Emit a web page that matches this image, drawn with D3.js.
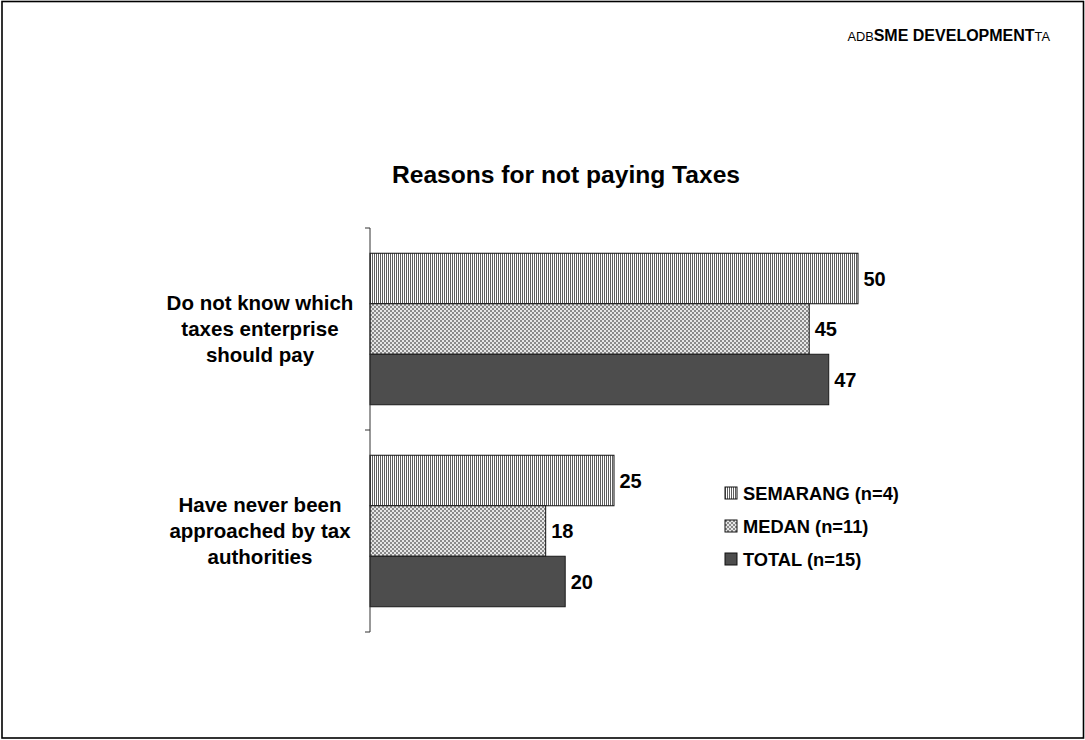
<!DOCTYPE html>
<html>
<head>
<meta charset="utf-8">
<script src="https://cdn.jsdelivr.net/npm/d3@7"></script>
<style>
  html, body { margin: 0; padding: 0; background: #fff; }
  svg text { font-family: Arial, "Liberation Sans", sans-serif; }
</style>
</head>
<body>
<svg id="chart" width="1085" height="740"></svg>
<script>
// Reasons for not paying taxes, by city (percent of respondents)
const categories = [
  ["Do not know which", "taxes enterprise", "should pay"],
  ["Have never been", "approached by tax", "authorities"]
];
const categoryKeys = ["know", "approached"];
const seriesNames = ["SEMARANG (n=4)", "MEDAN (n=11)", "TOTAL (n=15)"];
const semarang = [50, 25];
const medan = [45, 18];
const total = [47, 20];
const seriesValues = [semarang, medan, total];

const svg = d3.select("#chart");

// Patterned fills
const defs = svg.append("defs");
const stripes = defs.append("pattern")
  .attr("id", "pat-semarang").attr("patternUnits", "userSpaceOnUse")
  .attr("width", 2).attr("height", 4);
stripes.append("rect").attr("width", 2).attr("height", 4).attr("fill", "#fff");
stripes.append("rect").attr("width", 1).attr("height", 4).attr("fill", "#5e5e5e");

const checks = defs.append("pattern")
  .attr("id", "pat-medan").attr("patternUnits", "userSpaceOnUse")
  .attr("width", 4).attr("height", 4);
checks.append("rect").attr("width", 4).attr("height", 4).attr("fill", "#e6e6e6");
checks.append("rect").attr("width", 2).attr("height", 2).attr("fill", "#8a8a8a");
checks.append("rect").attr("x", 2).attr("y", 2).attr("width", 2).attr("height", 2).attr("fill", "#8a8a8a");

const fills = ["url(#pat-semarang)", "url(#pat-medan)", "#4d4d4d"];

// Page frame
svg.append("rect")
  .attr("x", 2).attr("y", 1.5).attr("width", 1081.5).attr("height", 736.5)
  .attr("fill", "none").attr("stroke", "#000").attr("stroke-width", 1.6);

// Header
const head = svg.append("text").attr("x", 1050).attr("y", 41).attr("text-anchor", "end")
  .attr("fill", "#000");
head.append("tspan").attr("font-size", 12.8).text("ADB");
head.append("tspan").attr("font-size", 16).attr("font-weight", "bold").text("SME DEVELOPMENT");
head.append("tspan").attr("font-size", 12.8).text("TA");

// Title
svg.append("text")
  .attr("x", 566).attr("y", 183).attr("text-anchor", "middle")
  .attr("font-size", 24.6).attr("font-weight", "bold").attr("fill", "#000")
  .text("Reasons for not paying Taxes");

// Scales
const x = d3.scaleLinear().domain([0, 50]).range([370, 858]);
const y = d3.scaleBand().domain(categoryKeys).range([228, 632])
  .paddingInner(0.25).paddingOuter(0.125);
const ySub = d3.scaleBand().domain(d3.range(seriesNames.length)).range([0, y.bandwidth()]);

// Bars
seriesNames.forEach((name, si) => {
  const g = svg.append("g");
  g.selectAll("rect")
    .data(seriesValues[si])
    .join("rect")
    .attr("x", x(0))
    .attr("y", (d, i) => y(categoryKeys[i]) + ySub(si))
    .attr("width", d => x(d) - x(0))
    .attr("height", ySub.bandwidth())
    .attr("fill", fills[si])
    .attr("stroke", si === 2 ? "#1a1a1a" : "#111")
    .attr("stroke-width", 1);
  g.selectAll("text")
    .data(seriesValues[si])
    .join("text")
    .attr("x", d => x(d) + 5.5)
    .attr("y", (d, i) => y(categoryKeys[i]) + ySub(si) + ySub.bandwidth() / 2 + 7)
    .attr("font-size", 20).attr("font-weight", "bold").attr("fill", "#000")
    .text(d => d);
});

// Category axis with boundary ticks
const [y0, y1] = y.range();
const axis = svg.append("g").attr("stroke", "#333").attr("stroke-width", 1);
axis.append("line").attr("x1", x(0)).attr("x2", x(0)).attr("y1", y0).attr("y2", y1);
const bounds = [y0].concat(categoryKeys.map(k => y(k) + y.bandwidth() + y.step() * y.paddingInner() / 2));
bounds[bounds.length - 1] = y1;
axis.selectAll("line.tick").data(bounds).join("line").attr("class", "tick")
  .attr("x1", x(0) - 5).attr("x2", x(0)).attr("y1", d => d).attr("y2", d => d);

// Category labels
categoryKeys.forEach((k, i) => {
  const cy = y(k) + y.bandwidth() / 2;
  const t = svg.append("text").attr("text-anchor", "middle")
    .attr("font-size", 20.5).attr("font-weight", "bold").attr("fill", "#000");
  categories[i].forEach((line, li) => {
    t.append("tspan").attr("x", 260).attr("y", cy + (li - 1) * 26 + 7).text(line);
  });
});

// Legend
const legend = svg.append("g").attr("transform", "translate(725,487)");
seriesNames.forEach((name, si) => {
  const row = legend.append("g").attr("transform", `translate(0,${si * 33})`);
  row.append("rect").attr("width", 12).attr("height", 12)
    .attr("fill", fills[si]).attr("stroke", "#111").attr("stroke-width", 1);
  row.append("text").attr("x", 18).attr("y", 12.5)
    .attr("font-size", 18.3).attr("font-weight", "bold").attr("fill", "#000")
    .text(name);
});
</script>
</body>
</html>
